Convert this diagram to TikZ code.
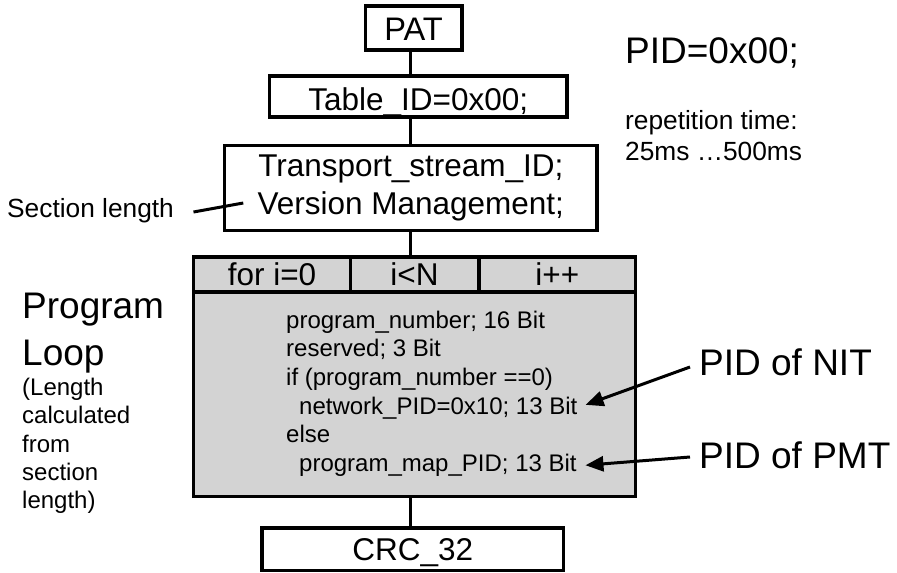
\documentclass[tikz,border=0pt]{standalone}
\usepackage{fontspec}
\setmainfont{Liberation Sans}
\usetikzlibrary{arrows.meta}
\definecolor{loopgray}{RGB}{211,211,211}
\begin{document}
\begin{tikzpicture}[x=1pt,y=-1pt,
  box/.style={draw, line width=3.5pt, inner sep=0pt, font=\fontsize{31.5}{38}\selectfont},
  cell/.style={box, fill=loopgray},
  code/.style={anchor=base west, inner sep=0pt, text height=17.5pt, text depth=5pt, font=\fontsize{24}{29}\selectfont},
  big/.style={anchor=base west, inner sep=0pt, text height=26.5pt, text depth=0pt, font=\fontsize{37}{44}\selectfont},
  mid/.style={anchor=base west, inner sep=0pt, text height=19pt, text depth=5.5pt, font=\fontsize{26.3}{30}\selectfont},
  conn/.style={line width=3.5pt},
  arr/.style={line width=3pt, -{Triangle[length=18pt,width=15pt]}}
]
\useasboundingbox (0,0) rectangle (897,573);
\coordinate (spine) at (410.5,0);

% main boxes
\node[box, font=\fontsize{32.6}{38}\selectfont, minimum width=96.7pt, text height=34pt, text depth=10pt] (pat) at (413.6,28) {PAT};
\node[box, minimum width=297.5pt, text height=34pt, text depth=7pt] (tid) at (418.25,96.5) {Table\_ID=0x00;};
\node[box, minimum width=372.3pt, minimum height=85pt, align=center] (ts) at (410.85,187.8) {Transport\_stream\_ID;\\Version Management;};

% loop header cells and body
\node[cell, minimum width=442pt, minimum height=204.7pt] (body) at (414.7,394.35) {};
\node[cell, minimum width=156.6pt, text height=28pt, text depth=7pt] (c1) at (272,274.5) {for i=0};
\node[cell, minimum width=128.5pt, text height=28pt, text depth=7pt] (c2) at (414.55,274.5) {i<N};
\node[cell, minimum width=156.9pt, text height=28pt, text depth=7pt] (c3) at (557.25,274.5) {i++};

\node[box, minimum width=301.7pt, text height=32pt, text depth=10.3pt] (crc) at (412.85,549.15) {CRC\_32};

% connectors
\draw[conn] (spine |- pat.south) -- (spine |- tid.north);
\draw[conn] (spine |- tid.south) -- (spine |- ts.north);
\draw[conn] (spine |- ts.south) -- (spine |- c2.north);
\draw[conn] (spine |- body.south) -- (spine |- crc.north);

% code lines
\node[code] (l1) at (286,328) {program\_number; 16 Bit};
\node[code] (l2) at (286,356.7) {reserved; 3 Bit};
\node[code] (l3) at (286,385.4) {if (program\_number ==0)};
\node[code] (net) at (299,414.1) {network\_PID=0x10; 13 Bit};
\node[code] (l5) at (286,442.8) {else};
\node[code] (map) at (299,471.5) {program\_map\_PID; 13 Bit};

% right texts
\node[big] (pid) at (625,63) {PID=0x00;};
\node[mid] (rep1) at (625,129) {repetition time:};
\node[mid] (rep2) at (625,160) {25ms …500ms};
\node[big] (nit) at (699,375) {PID of NIT};
\node[big] (pmt) at (699,468) {PID of PMT};

% left texts
\node[mid] (sec) at (7,217) {Section length};
\node[big] (prog) at (22,318) {Program};
\node[big] (loop) at (22,365) {Loop};
\node[code] (s1) at (22,395) {(Length};
\node[code] (s2) at (22,423) {calculated};
\node[code] (s3) at (22,452) {from};
\node[code] (s4) at (22,480) {section};
\node[code] (s5) at (22,508) {length)};

% pointers
\draw[line width=3pt] ([shift={(19.4,1.75)}]sec.east) -- ([shift={(20.3,15.2)}]ts.west);
\draw[arr] ([shift={(-9,5.25)}]nit.west) -- ([shift={(8,-3)}]net.east);
\draw[arr] ([shift={(-9,2.25)}]pmt.west) -- ([shift={(8.6,0)}]map.east);
\end{tikzpicture}
\end{document}
